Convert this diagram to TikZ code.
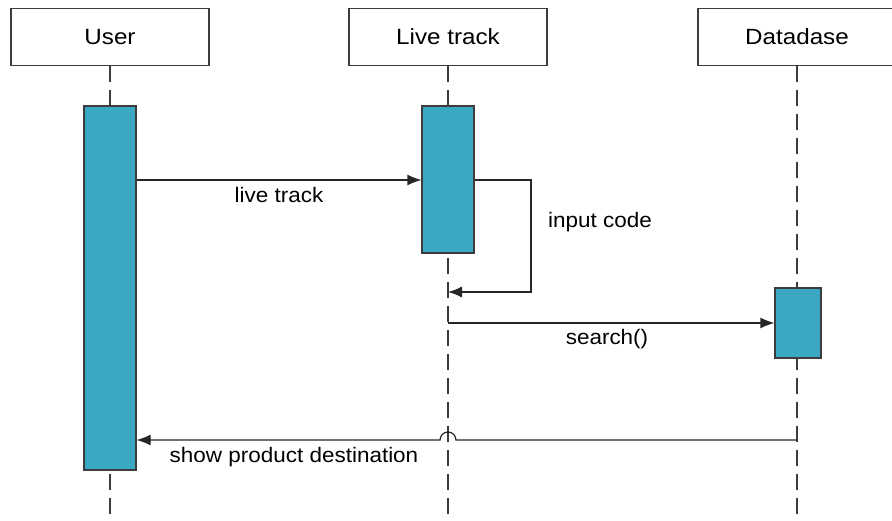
\documentclass[tikz,border=0pt]{standalone}
\usepackage{fontspec}
\usepackage{graphicx}
\setmainfont{Liberation Sans}
\usetikzlibrary{arrows.meta}
\definecolor{barblue}{HTML}{3AA8C3}
\definecolor{edgegray}{HTML}{3C3C3C}
\newcommand{\widetext}[2]{\scalebox{#1}[1]{#2}}
\begin{document}
\begin{tikzpicture}[x=1pt, y=-1pt,
    head/.style={draw=edgegray, line width=1.2pt, fill=white, minimum width=198pt, minimum height=57pt, font=\fontsize{22}{26}\selectfont},
    bar/.style={draw=edgegray, line width=1.2pt, fill=barblue, minimum width=52pt},
    life/.style={draw=edgegray, line width=1.4pt, dash pattern=on 16pt off 8pt},
    msg/.style={draw=black!85, line width=1.2pt, -{Latex[length=14pt,width=11pt]}},
    lbl/.style={font=\fontsize{21}{25}\selectfont}]
    \useasboundingbox (0,0) rectangle (892,521);
    % Heads of the lifelines
    \node[head] (user) at (110,37) {\widetext{1.1}{User}};
    \node[head] (live) at (448,37) {\widetext{1.1}{Live track}};
    \node[head] (db) at (797,37) {\widetext{1.1}{Datadase}};
    % Dashed lifelines
    \draw[life] (user.south) -- (user.south |- 0,521);
    \draw[life] (live.south) -- (live.south |- 0,521);
    \draw[life] (db.south) -- (db.south |- 0,521);
    % Activation bars
    \node[bar, minimum height=364pt] (ubar) at (110,288) {};
    \node[bar, minimum height=147pt] (lbar) at (448,179.5) {};
    \node[bar, minimum width=46pt, minimum height=70pt] (dbar) at (798,323) {};
    % Messages
    \draw[msg] (ubar.east |- 0,180) -- (lbar.west |- 0,180);
    \node[lbl] (m1) at (279,195) {\widetext{1.07}{live track}};
    \coordinate (turn1) at (531,180);
    \coordinate (turn2) at (531,292);
    \draw[msg] (lbar.east |- turn1) -- (turn1) -- (turn2) -- (live.south |- turn2);
    \node[lbl] (m2) at (600,222) {\widetext{1.07}{input code}};
    \draw[msg] (live.south |- 0,323) -- (dbar.west |- 0,323);
    \node[lbl] (m3) at (607,339) {\widetext{1.07}{search()}};
    \coordinate (hop) at (live.south |- 0,440);
    \draw[msg] (db.south |- hop) -- ([xshift=8pt]hop) arc[start angle=0, end angle=180, radius=8pt] -- (ubar.east |- hop);
    \node[lbl] (m4) at (294,457) {\widetext{1.07}{show product destination}};
\end{tikzpicture}
\end{document}
